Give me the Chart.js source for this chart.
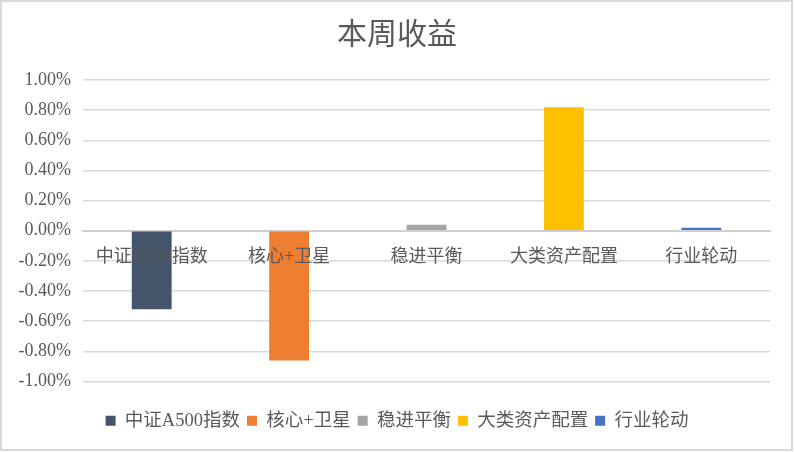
<!DOCTYPE html>
<html><head><meta charset="utf-8">
<script src="https://cdn.jsdelivr.net/npm/chart.js@4"></script>
<style>
html,body{margin:0;padding:0;background:#fff;}
#frame{position:absolute;left:0;top:0;width:793px;height:451px;box-sizing:border-box;border:2px solid #d9d9d9;pointer-events:none;}
#wrap{position:absolute;left:0;top:0;width:794px;height:452px;}
</style></head><body>
<div id="wrap"><canvas id="c"></canvas></div>
<div id="frame"></div>
<script>
const categories = ['中证A500指数', '核心+卫星', '稳进平衡', '大类资产配置', '行业轮动'];
const values = [-0.52, -0.86, 0.04, 0.82, 0.02]; // weekly return, %
const colors = ['#44546A', '#ED7D31', '#A5A5A5', '#FFC000', '#4472C4'];
const yMin = -1.0, yMax = 1.0, yStep = 0.2;
const title = '本周收益';

const FONT = "'Liberation Serif', 'Noto Sans CJK SC', serif";
const TXT = '#595959';

const datasets = categories.map((name, i) => ({
  label: name,
  data: values.map((v, j) => (j === i ? v : null)),
  backgroundColor: colors[i],
  borderWidth: 0,
  skipNull: true,
  barPercentage: 0.29,
  categoryPercentage: 1,
  xAxisID: 'x',
  yAxisID: 'y'
}));

new Chart(document.getElementById('c'), {
  type: 'bar',
  data: { labels: categories, datasets },
  options: {
    responsive: true,
    maintainAspectRatio: false,
    animation: false,
    layout: { padding: { left: 0, right: 0, top: 0, bottom: 12 } },
    plugins: {
      title: {
        display: true, text: title, color: TXT,
        font: { family: "'Noto Sans CJK SC', sans-serif", size: 30, weight: 'normal' },
        padding: { top: 15, bottom: 29 }
      },
      legend: {
        position: 'bottom',
        labels: {
          boxWidth: 10, boxHeight: 10, padding: 7, color: TXT,
          font: { family: FONT, size: 18.5 }
        }
      },
      tooltip: { enabled: false }
    },
    scales: {
      x: {
        type: 'category',
        position: { y: 0 },
        grid: { display: false, drawTicks: false },
        border: { display: true, color: '#d0d0d0', width: 2 },
        ticks: { z: 1, padding: 16, color: TXT, font: { family: FONT, size: 18 }, maxRotation: 0, autoSkip: false }
      },
      x2: {
        type: 'category',
        labels: categories,
        position: 'bottom',
        grid: { display: false, drawTicks: false },
        border: { display: false },
        ticks: { display: false },
        afterFit: s => { s.height = 23; }
      },
      y: {
        min: yMin, max: yMax,
        ticks: {
          stepSize: yStep, padding: 12, color: TXT,
          font: { family: FONT, size: 18 },
          callback: v => (Math.abs(v) < 1e-9 ? 0 : v).toFixed(2) + '%'
        },
        grid: { color: '#d9d9d9', lineWidth: 1.5, drawTicks: false },
        border: { display: false },
        afterFit: s => { s.width = 83; }
      },
      y2: {
        type: 'linear',
        position: 'right',
        min: yMin, max: yMax,
        grid: { display: false, drawTicks: false },
        border: { display: false },
        ticks: { display: false },
        afterFit: s => { s.width = 24; }
      }
    }
  }
});
</script>
</body></html>
